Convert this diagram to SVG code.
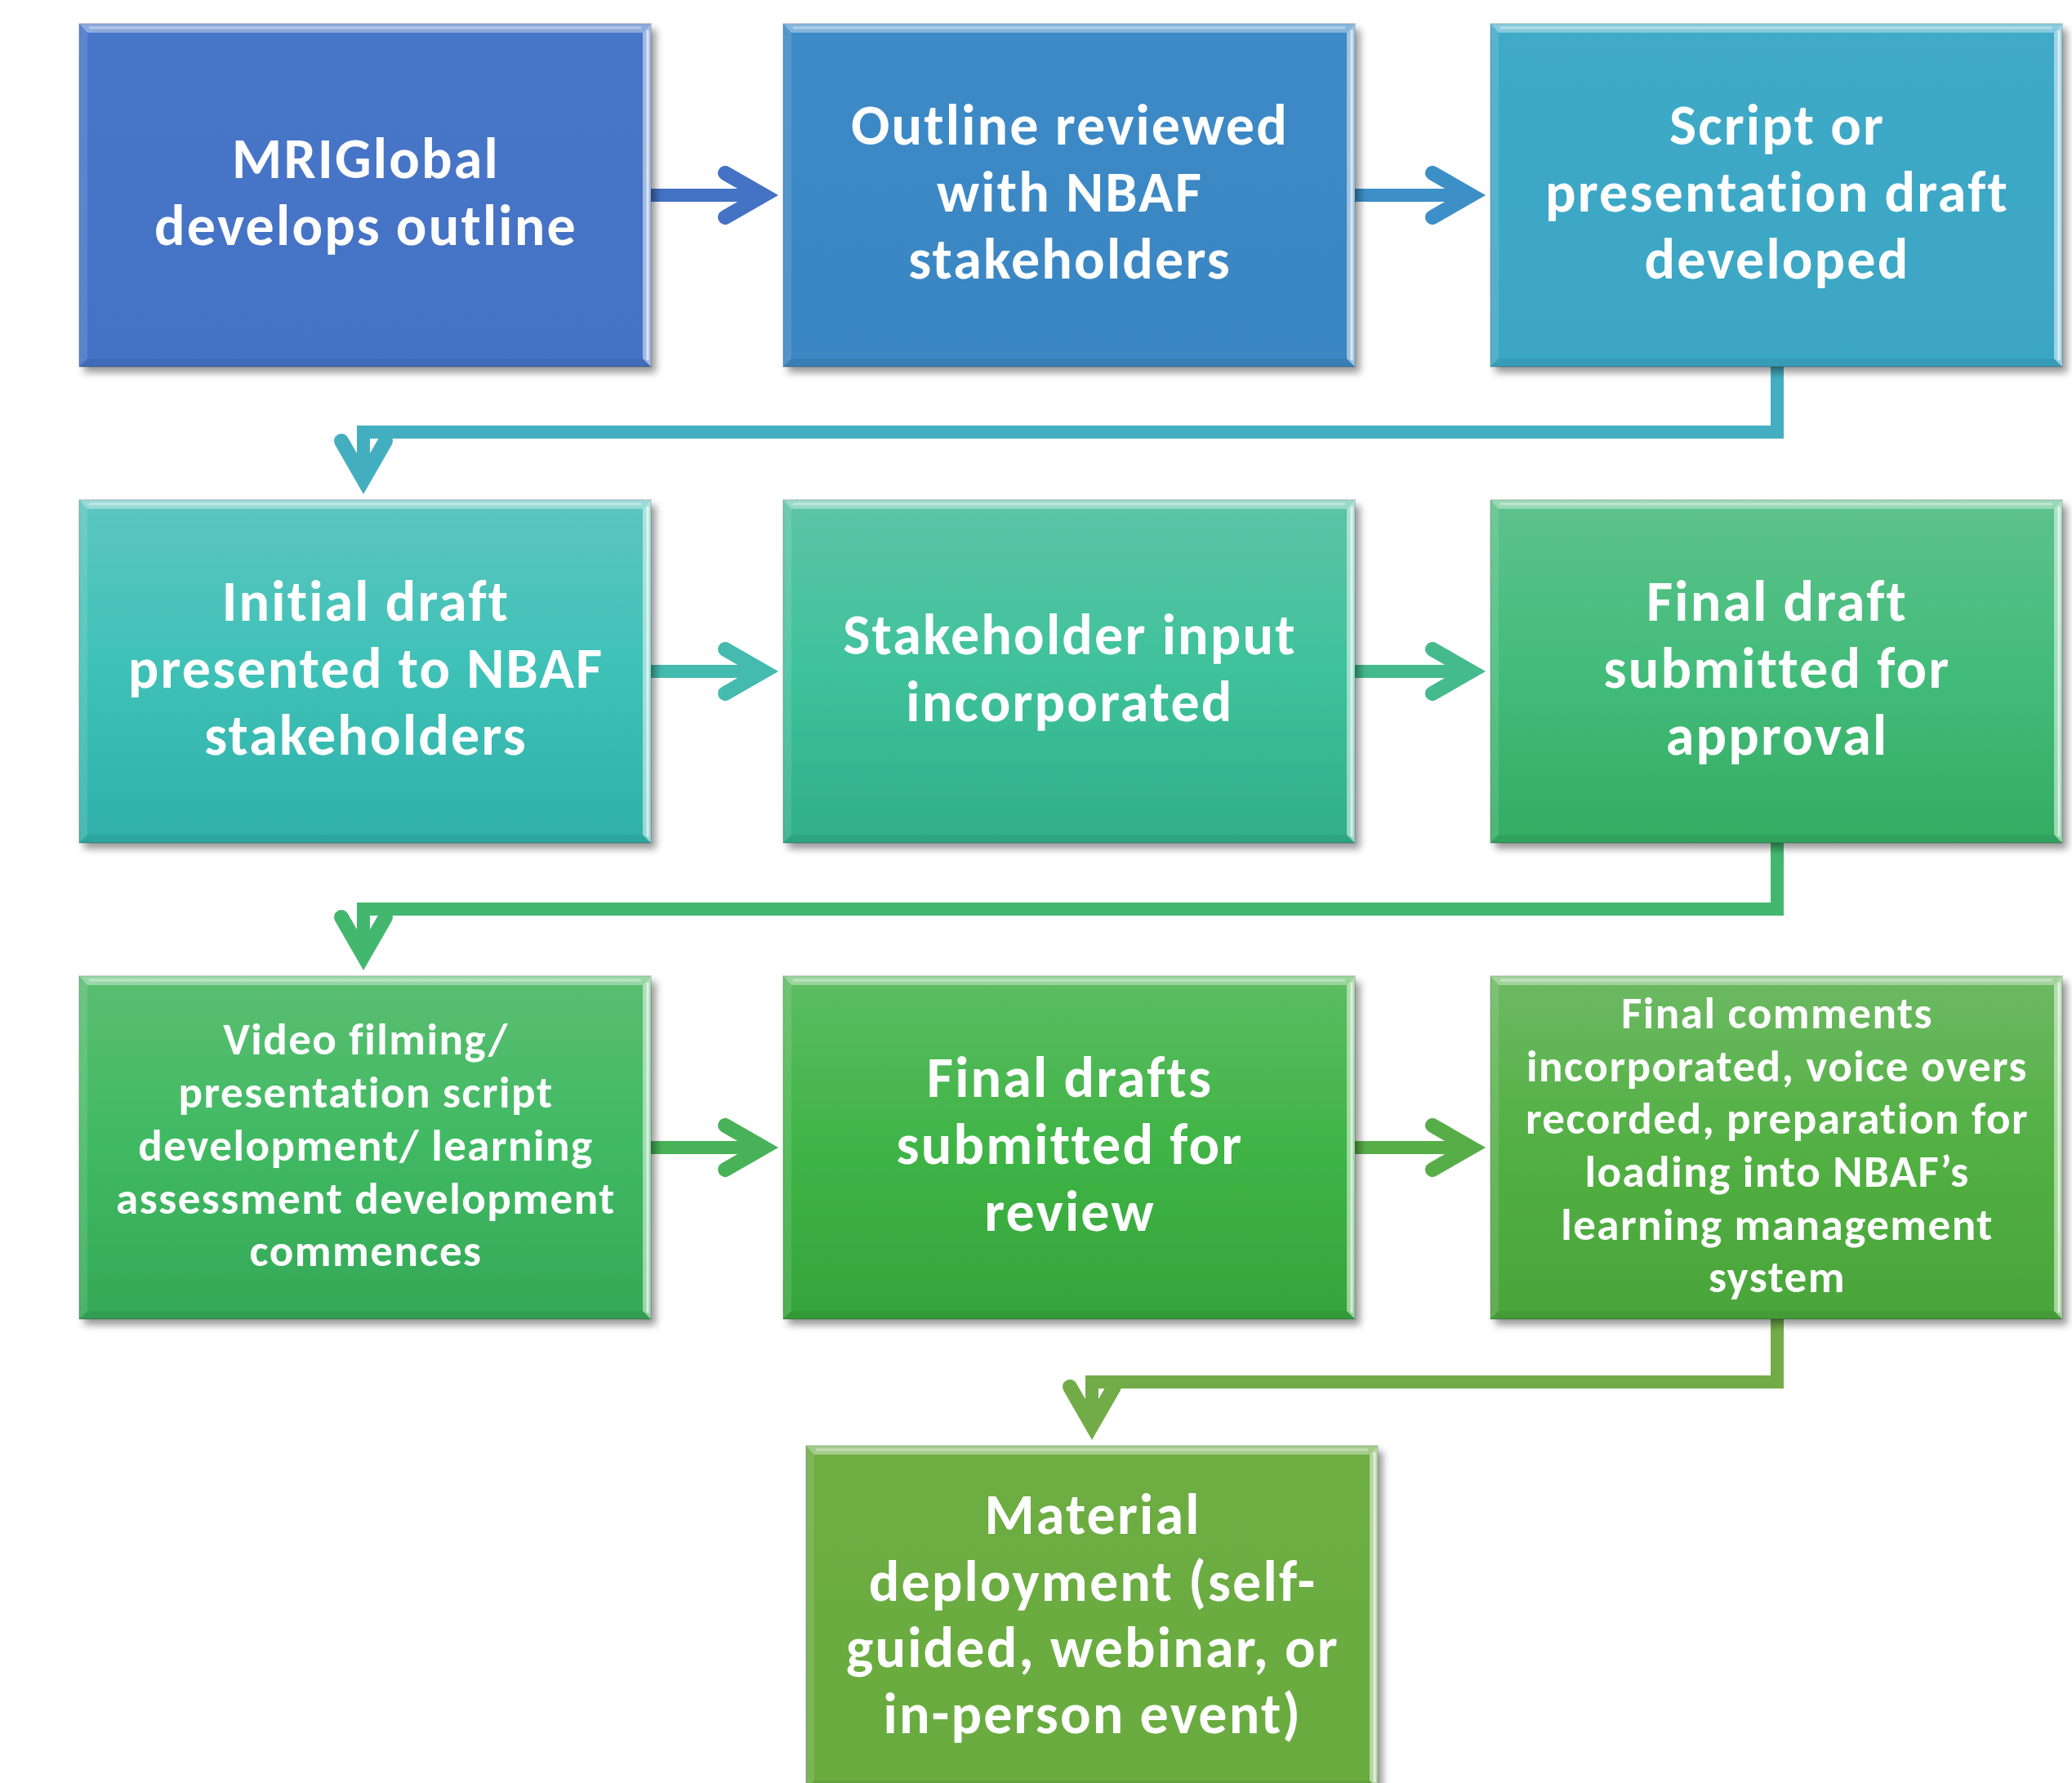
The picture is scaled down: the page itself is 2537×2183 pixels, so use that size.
<svg xmlns="http://www.w3.org/2000/svg" xmlns:xlink="http://www.w3.org/1999/xlink" width="2537" height="2183" viewBox="0 0 2537 2183">
<style>
.t{font-family:Carlito,Calibri,Lato,"Open Sans",sans-serif;font-weight:bold;fill:#ffffff;text-anchor:middle}
.big{font-size:70px;letter-spacing:2.2px}
.sm{font-size:55px;letter-spacing:1.5px}
.box{stroke:rgba(0,0,0,0.18);stroke-width:1.5}
.conn path{fill:none;stroke-width:16;stroke-linejoin:miter}
.conn path.head{stroke-width:18;stroke-linecap:round;stroke-linejoin:miter}
</style>
<defs>
<filter id="sh" x="-5%" y="-5%" width="112%" height="115%">
<feDropShadow dx="6" dy="7" stdDeviation="5" flood-color="#000" flood-opacity="0.4"/>
</filter>
<linearGradient id="g1" x1="0" y1="0" x2="0" y2="1"><stop offset="0" stop-color="#4775C8"/><stop offset="1" stop-color="#4472C4"/></linearGradient>
<linearGradient id="g2" x1="0" y1="0" x2="0" y2="1"><stop offset="0" stop-color="#3C8AC7"/><stop offset="1" stop-color="#3A86C3"/></linearGradient>
<linearGradient id="g3" x1="0" y1="0" x2="0" y2="1"><stop offset="0" stop-color="#3FAAC8"/><stop offset="1" stop-color="#3BA6C4"/></linearGradient>
<linearGradient id="g4" x1="0" y1="0" x2="0" y2="1"><stop offset="0" stop-color="#5CC6C0"/><stop offset="0.5" stop-color="#3EC1B7"/><stop offset="1" stop-color="#2FB0A9"/></linearGradient>
<linearGradient id="g5" x1="0" y1="0" x2="0" y2="1"><stop offset="0" stop-color="#5DC4A6"/><stop offset="0.5" stop-color="#3EC29B"/><stop offset="1" stop-color="#30AE88"/></linearGradient>
<linearGradient id="g6" x1="0" y1="0" x2="0" y2="1"><stop offset="0" stop-color="#5DC28C"/><stop offset="0.5" stop-color="#43BC7A"/><stop offset="1" stop-color="#33AC62"/></linearGradient>
<linearGradient id="g7" x1="0" y1="0" x2="0" y2="1"><stop offset="0" stop-color="#5BBE72"/><stop offset="0.5" stop-color="#40B963"/><stop offset="1" stop-color="#35A857"/></linearGradient>
<linearGradient id="g8" x1="0" y1="0" x2="0" y2="1"><stop offset="0" stop-color="#5DBD62"/><stop offset="0.5" stop-color="#3FB446"/><stop offset="1" stop-color="#35A43A"/></linearGradient>
<linearGradient id="g9" x1="0" y1="0" x2="0" y2="1"><stop offset="0" stop-color="#6DB963"/><stop offset="0.5" stop-color="#52B043"/><stop offset="1" stop-color="#4AA53A"/></linearGradient>
<linearGradient id="g10" x1="0" y1="0" x2="0" y2="1"><stop offset="0" stop-color="#6DAD43"/><stop offset="1" stop-color="#6AAB40"/></linearGradient>
<g id="bevel">
<polygon points="0,0 700,0 690,11 10,11" fill="#ffffff" opacity="0.38"/>
<polygon points="700,0 700,420 690,410 690,11" fill="#ffffff" opacity="0.5"/>
<polygon points="0,0 10,11 10,410 0,420" fill="#ffffff" opacity="0.12"/>
<polygon points="0,420 10,410 690,410 700,420" fill="#000000" opacity="0.06"/>
<line x1="12" y1="5" x2="688" y2="5" stroke="#ffffff" stroke-width="3" opacity="0.35"/>
<line x1="696" y1="8" x2="696" y2="412" stroke="#ffffff" stroke-width="3" opacity="0.6"/>
</g>
</defs>
<rect width="2537" height="2183" fill="#ffffff"/>

<g id="connectors" class="conn">
<path d="M797,239 H935" stroke="#4472C4"/>
<path class="head" d="M888,212 L935,239 L888,266" stroke="#4472C4"/>
<path d="M1659,239 H1801" stroke="#3D8FC8"/>
<path class="head" d="M1754,212 L1801,239 L1754,266" stroke="#3D8FC8"/>
<path d="M2176,449 V529 H445 V587" stroke="#44AEC1"/>
<path class="head" d="M418,540 L445,587 L472,540" stroke="#44AEC1"/>
<path d="M797,822 H935" stroke="#44BBAE"/>
<path class="head" d="M888,795 L935,822 L888,849" stroke="#44BBAE"/>
<path d="M1659,822 H1801" stroke="#44BA8D"/>
<path class="head" d="M1754,795 L1801,822 L1754,849" stroke="#44BA8D"/>
<path d="M2176,1032 V1113 H445 V1170" stroke="#44B76F"/>
<path class="head" d="M418,1123 L445,1170 L472,1123" stroke="#44B76F"/>
<path d="M797,1405 H935" stroke="#47B257"/>
<path class="head" d="M888,1378 L935,1405 L888,1432" stroke="#47B257"/>
<path d="M1659,1405 H1801" stroke="#57AE49"/>
<path class="head" d="M1754,1378 L1801,1405 L1754,1432" stroke="#57AE49"/>
<path d="M2176,1615 V1692 H1337 V1745" stroke="#72AC48"/>
<path class="head" d="M1310,1698 L1337,1745 L1364,1698" stroke="#72AC48"/>
</g>

<g id="n1">
<rect class="box" x="97" y="29" width="700" height="420" fill="url(#g1)" filter="url(#sh)"/>
<use xlink:href="#bevel" x="97" y="29"/>
<text class="t big" x="448" y="218">MRIGlobal</text>
<text class="t big" x="448" y="300">develops outline</text>
</g>
<g id="n2">
<rect class="box" x="959" y="29" width="700" height="420" fill="url(#g2)" filter="url(#sh)"/>
<use xlink:href="#bevel" x="959" y="29"/>
<text class="t big" x="1310" y="177">Outline reviewed</text>
<text class="t big" x="1310" y="259">with NBAF</text>
<text class="t big" x="1310" y="341">stakeholders</text>
</g>
<g id="n3">
<rect class="box" x="1825" y="29" width="700" height="420" fill="url(#g3)" filter="url(#sh)"/>
<use xlink:href="#bevel" x="1825" y="29"/>
<text class="t big" x="2176" y="177">Script or</text>
<text class="t big" x="2176" y="259">presentation draft</text>
<text class="t big" x="2176" y="341">developed</text>
</g>

<g id="n4">
<rect class="box" x="97" y="612" width="700" height="420" fill="url(#g4)" filter="url(#sh)"/>
<use xlink:href="#bevel" x="97" y="612"/>
<text class="t big" x="448" y="760">Initial draft</text>
<text class="t big" x="448" y="842">presented to NBAF</text>
<text class="t big" x="448" y="924">stakeholders</text>
</g>
<g id="n5">
<rect class="box" x="959" y="612" width="700" height="420" fill="url(#g5)" filter="url(#sh)"/>
<use xlink:href="#bevel" x="959" y="612"/>
<text class="t big" x="1310" y="801">Stakeholder input</text>
<text class="t big" x="1310" y="883">incorporated</text>
</g>
<g id="n6">
<rect class="box" x="1825" y="612" width="700" height="420" fill="url(#g6)" filter="url(#sh)"/>
<use xlink:href="#bevel" x="1825" y="612"/>
<text class="t big" x="2176" y="760">Final draft</text>
<text class="t big" x="2176" y="842">submitted for</text>
<text class="t big" x="2176" y="924">approval</text>
</g>

<g id="n7">
<rect class="box" x="97" y="1195" width="700" height="420" fill="url(#g7)" filter="url(#sh)"/>
<use xlink:href="#bevel" x="97" y="1195"/>
<text class="t sm" x="448" y="1291">Video filming/</text>
<text class="t sm" x="448" y="1356">presentation script</text>
<text class="t sm" x="448" y="1421">development/ learning</text>
<text class="t sm" x="448" y="1486">assessment development</text>
<text class="t sm" x="448" y="1550">commences</text>
</g>
<g id="n8">
<rect class="box" x="959" y="1195" width="700" height="420" fill="url(#g8)" filter="url(#sh)"/>
<use xlink:href="#bevel" x="959" y="1195"/>
<text class="t big" x="1310" y="1343">Final drafts</text>
<text class="t big" x="1310" y="1425">submitted for</text>
<text class="t big" x="1310" y="1507">review</text>
</g>
<g id="n9">
<rect class="box" x="1825" y="1195" width="700" height="420" fill="url(#g9)" filter="url(#sh)"/>
<use xlink:href="#bevel" x="1825" y="1195"/>
<text class="t sm" x="2176" y="1259">Final comments</text>
<text class="t sm" x="2176" y="1324">incorporated, voice overs</text>
<text class="t sm" x="2176" y="1388">recorded, preparation for</text>
<text class="t sm" x="2176" y="1453">loading into NBAF’s</text>
<text class="t sm" x="2176" y="1518">learning management</text>
<text class="t sm" x="2176" y="1582">system</text>
</g>

<g id="n10">
<rect class="box" x="987" y="1770" width="700" height="420" fill="url(#g10)" filter="url(#sh)"/>
<use xlink:href="#bevel" x="987" y="1770"/>
<text class="t big" x="1338" y="1878">Material</text>
<text class="t big" x="1338" y="1960">deployment (self-</text>
<text class="t big" x="1338" y="2041">guided, webinar, or</text>
<text class="t big" x="1338" y="2122">in-person event)</text>
</g>
</svg>
